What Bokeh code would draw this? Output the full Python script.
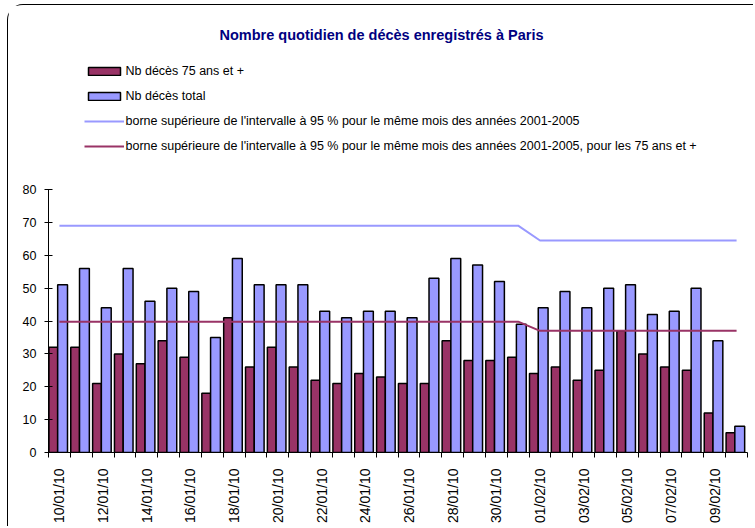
import math
import numpy as np
from bokeh.plotting import figure
from bokeh.models import (FixedTicker, Legend, LegendItem, Label, ColumnDataSource,
                          Range1d, CustomJSTickFormatter)
from bokeh.embed import file_html
from bokeh.resources import INLINE

# ---------------- data ----------------
dates = ["10/01/10", "11/01/10", "12/01/10", "13/01/10", "14/01/10", "15/01/10",
         "16/01/10", "17/01/10", "18/01/10", "19/01/10", "20/01/10", "21/01/10",
         "22/01/10", "23/01/10", "24/01/10", "25/01/10", "26/01/10", "27/01/10",
         "28/01/10", "29/01/10", "30/01/10", "31/01/10", "01/02/10", "02/02/10",
         "03/02/10", "04/02/10", "05/02/10", "06/02/10", "07/02/10", "08/02/10",
         "09/02/10", "10/02/10"]
deces_75 = [32, 32, 21, 30, 27, 34, 29, 18, 41, 26, 32, 26, 22, 21, 24, 23,
            21, 21, 34, 28, 28, 29, 24, 26, 22, 25, 37, 30, 26, 25, 12, 6]
deces_total = [51, 56, 44, 56, 46, 50, 49, 35, 59, 51, 51, 51, 43, 41, 43, 43,
               41, 53, 59, 57, 52, 39, 44, 49, 44, 50, 51, 42, 43, 50, 34, 8]
borne_total = [69.0, 69.0, 69.0, 69.0, 69.0, 69.0, 69.0, 69.0, 69.0, 69.0, 69.0,
               69.0, 69.0, 69.0, 69.0, 69.0, 69.0, 69.0, 69.0, 69.0, 69.0, 69.0,
               64.5, 64.5, 64.5, 64.5, 64.5, 64.5, 64.5, 64.5, 64.5, 64.5]
borne_75 = [39.8, 39.8, 39.8, 39.8, 39.8, 39.8, 39.8, 39.8, 39.8, 39.8, 39.8,
            39.8, 39.8, 39.8, 39.8, 39.8, 39.8, 39.8, 39.8, 39.8, 39.8, 39.8,
            37.0, 37.0, 37.0, 37.0, 37.0, 37.0, 37.0, 37.0, 37.0, 37.0]
y_ticks = [0, 10, 20, 30, 40, 50, 60, 70, 80]

title = "Nombre quotidien de décès enregistrés à Paris"
labels = ["Nb décès 75 ans et +",
          "Nb décès total",
          "borne supérieure de l'intervalle à 95 % pour le même mois des années 2001-2005",
          "borne supérieure de l'intervalle à 95 % pour le même mois des années 2001-2005, pour les 75 ans et +"]

# ---------------- styles / layout ----------------
FONT = "'Liberation Sans', Arial, sans-serif"
MAROON = "#993366"
BLUE = "#9999FF"

W, H = 746, 522
FRAME_H = 447          # frame spans from canvas top to the x axis
AXIS_H = 263           # pixel height of the 0..80 value axis
y_top = y_ticks[-1] * FRAME_H / AXIS_H

idx = np.arange(len(dates))
src = ColumnDataSource(dict(
    x75=idx + 0.22, xtot=idx + 0.645, xc=idx + 0.5,
    d75=deces_75, dtot=deces_total, b_tot=borne_total, b_75=borne_75))

p = figure(width=W, height=H, output_backend="svg", toolbar_location=None,
           x_range=Range1d(0, len(dates)), y_range=Range1d(y_ticks[0], y_top),
           min_border_left=40, min_border_right=7, min_border_top=0,
           min_border_bottom=H - FRAME_H)
p.styles = {"border-left": "1.5px solid black", "border-top": "1.5px solid black",
            "border-top-left-radius": "16px", "margin-top": "4px",
            "margin-left": "7px"}
p.outline_line_color = None
p.xgrid.visible = False
p.ygrid.visible = False
p.background_fill_color = "white"
p.border_fill_color = "white"

r75 = p.vbar(x="x75", top="d75", bottom=0, width=0.40, source=src,
             fill_color=MAROON, line_color="black", line_width=1.5)
rtot = p.vbar(x="xtot", top="dtot", bottom=0, width=0.45, source=src,
              fill_color=BLUE, line_color="black", line_width=1.5)
lt = p.line(x="xc", y="b_tot", source=src, line_color=BLUE, line_width=2)
l75 = p.line(x="xc", y="b_75", source=src, line_color=MAROON, line_width=2)

# y axis
ya = p.yaxis[0]
ya.ticker = FixedTicker(ticks=y_ticks)
ya.bounds = (y_ticks[0], y_ticks[-1])
ya.major_tick_in = 4
ya.major_tick_out = 4
ya.minor_tick_line_color = None
ya.axis_line_color = "black"
ya.major_tick_line_color = "black"
ya.major_label_text_font = FONT
ya.major_label_text_font_size = "12.5px"
ya.major_label_text_color = "black"
ya.major_label_standoff = 8

# x axis
xa = p.xaxis[0]
xa.ticker = FixedTicker(ticks=[i + 0.5 for i in range(0, len(dates), 2)],
                        minor_ticks=list(range(len(dates) + 1)))
xa.formatter = CustomJSTickFormatter(args=dict(labels=dates),
                                     code="return labels[Math.floor(tick)];")
xa.major_tick_in = 0
xa.major_tick_out = 0
xa.minor_tick_in = 0
xa.minor_tick_out = 5
xa.minor_tick_line_color = "black"
xa.axis_line_color = "black"
xa.major_label_orientation = math.pi / 2
xa.major_label_text_font = FONT
xa.major_label_text_font_size = "14px"
xa.major_label_text_color = "black"
xa.major_label_standoff = 11

legend = Legend(items=[LegendItem(label=labels[0], renderers=[r75]),
                       LegendItem(label=labels[1], renderers=[rtot]),
                       LegendItem(label=labels[2], renderers=[lt]),
                       LegendItem(label=labels[3], renderers=[l75])],
                location=(35.5, 296.5), orientation="vertical",
                glyph_width=40, glyph_height=10, label_height=20, spacing=5,
                padding=0, margin=0, label_standoff=2,
                border_line_color=None, background_fill_alpha=0,
                label_text_font=FONT, label_text_font_size="12.5px",
                label_text_color="black")
p.add_layout(legend)

p.add_layout(Label(x=333, y=417.5, x_units="screen", y_units="screen", text=title,
                   text_align="center", text_baseline="alphabetic",
                   text_font=FONT, text_font_size="14.5px", text_font_style="bold",
                   text_color="#000080"))

open("out.html", "w").write(file_html(p, INLINE))
